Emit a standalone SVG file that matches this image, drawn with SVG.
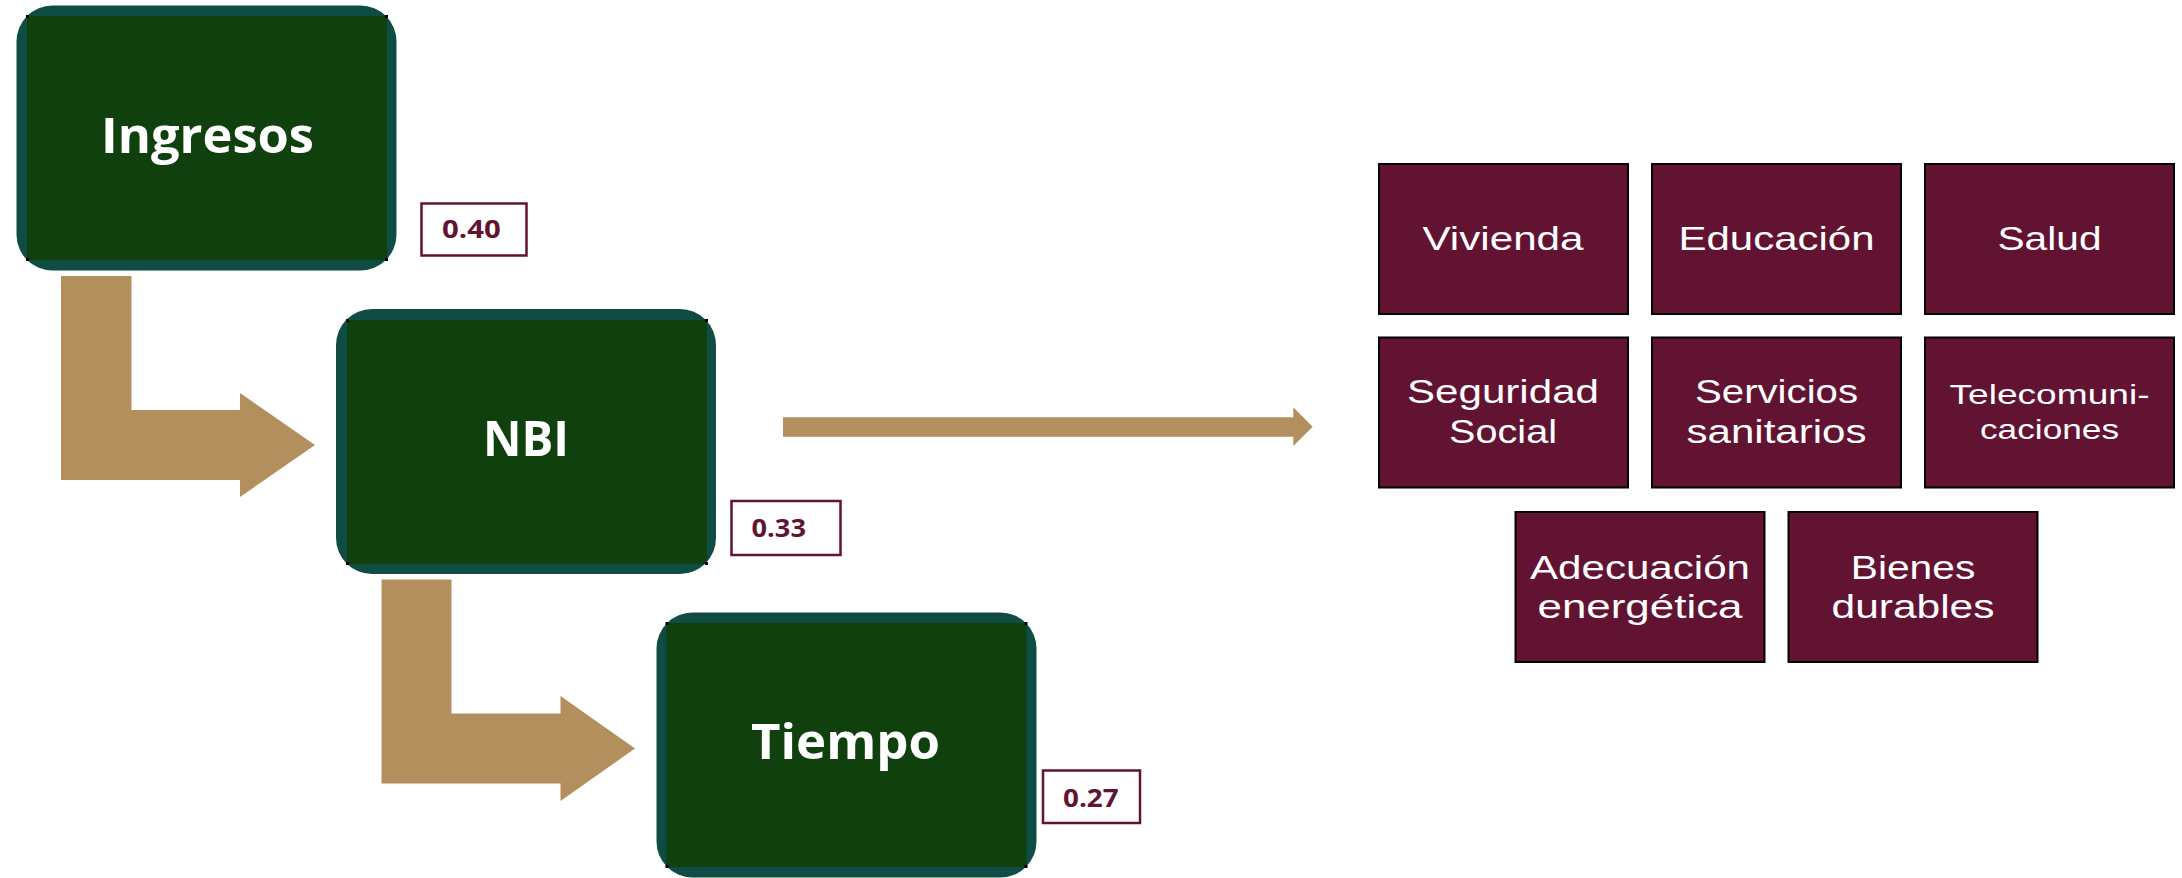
<svg xmlns="http://www.w3.org/2000/svg" width="2182" height="878" viewBox="0 0 2182 878">
<style>
.outer{fill:#0f4d44}
.inner{fill:#0f400d}
.dot{fill:#000}
.big{font-family:"Open Sans","Liberation Sans",sans-serif;font-weight:700;font-size:49px;fill:#fff;text-anchor:middle}
.lab{fill:#fff;stroke:#621332;stroke-width:2.5}
.val{font-family:"Open Sans","Liberation Sans",sans-serif;font-weight:700;font-size:25px;fill:#621332}
.cat{fill:#621332;stroke:#000;stroke-width:2}
.ct{font-family:"Liberation Sans","Open Sans",sans-serif;font-weight:400;font-size:34px;fill:#fff;text-anchor:middle}
.cs{font-family:"Liberation Sans","Open Sans",sans-serif;font-weight:400;font-size:28px;fill:#fff;text-anchor:middle}
.arr{fill:#b38f5e}
</style>
<rect width="2182" height="878" fill="#fff"/>
<g id="connectors">
<polygon class="arr" points="61,276 131.5,276 131.5,410 240,410 240,393 315,445 240,497 240,480 61,480"/>
<polygon class="arr" points="381.5,579.5 451.5,579.5 451.5,713.5 560.5,713.5 560.5,696 635,748.5 560.5,801 560.5,783.5 381.5,783.5"/>
<polygon class="arr" points="783,417.3 1293.3,417.3 1293.3,407.3 1312.7,426.7 1293.3,446 1293.3,436.7 783,436.7"/>
</g>
<g id="ingresos">
<rect class="outer" x="16.5" y="5.5" width="380" height="265" rx="36"/>
<rect class="inner" x="27" y="16" width="360" height="244"/>
<rect class="dot" x="26" y="15" width="3" height="3"/><rect class="dot" x="385" y="15" width="3" height="3"/>
<rect class="dot" x="26" y="258" width="3" height="3"/><rect class="dot" x="385" y="258" width="3" height="3"/>
<text class="big" x="207.5" y="153" textLength="213" lengthAdjust="spacingAndGlyphs">Ingresos</text>
</g>
<g id="label-040">
<rect class="lab" x="421.5" y="203.5" width="105" height="52"/>
<text class="val" x="442" y="238.3" textLength="58.7" lengthAdjust="spacingAndGlyphs">0.40</text>
</g>
<g id="nbi">
<rect class="outer" x="336" y="309" width="380" height="265" rx="36"/>
<rect class="inner" x="347" y="320" width="360" height="244"/>
<rect class="dot" x="346" y="319" width="3" height="3"/><rect class="dot" x="705" y="319" width="3" height="3"/>
<rect class="dot" x="346" y="562" width="3" height="3"/><rect class="dot" x="705" y="562" width="3" height="3"/>
<text class="big" x="526" y="456" textLength="86" lengthAdjust="spacingAndGlyphs">NBI</text>
</g>
<g id="label-033">
<rect class="lab" x="731.5" y="501" width="109" height="54"/>
<text class="val" x="751.5" y="537" textLength="54.5" lengthAdjust="spacingAndGlyphs">0.33</text>
</g>
<g id="tiempo">
<rect class="outer" x="656.5" y="612.5" width="380" height="265" rx="36"/>
<rect class="inner" x="666.5" y="623" width="360" height="244"/>
<rect class="dot" x="665.5" y="622" width="3" height="3"/><rect class="dot" x="1024.5" y="622" width="3" height="3"/>
<rect class="dot" x="665.5" y="865" width="3" height="3"/><rect class="dot" x="1024.5" y="865" width="3" height="3"/>
<text class="big" x="845.5" y="759.3" textLength="189" lengthAdjust="spacingAndGlyphs">Tiempo</text>
</g>
<g id="label-027">
<rect class="lab" x="1043" y="770.5" width="97" height="52.5"/>
<text class="val" x="1063" y="806.7" textLength="55.7" lengthAdjust="spacingAndGlyphs">0.27</text>
</g>
<g id="vivienda">
<rect class="cat" x="1379" y="164" width="249" height="150"/>
<text class="ct" x="1503" y="250" textLength="161" lengthAdjust="spacingAndGlyphs">Vivienda</text>
</g>
<g id="educacion">
<rect class="cat" x="1652" y="164" width="249" height="150"/>
<text class="ct" x="1776.5" y="250" textLength="196" lengthAdjust="spacingAndGlyphs">Educación</text>
</g>
<g id="salud">
<rect class="cat" x="1925" y="164" width="249" height="150"/>
<text class="ct" x="2049.5" y="250" textLength="104" lengthAdjust="spacingAndGlyphs">Salud</text>
</g>
<g id="seguridad-social">
<rect class="cat" x="1379" y="337.5" width="249" height="150"/>
<text class="ct" x="1503" y="403" textLength="192" lengthAdjust="spacingAndGlyphs">Seguridad</text>
<text class="ct" x="1503" y="443" textLength="108" lengthAdjust="spacingAndGlyphs">Social</text>
</g>
<g id="servicios-sanitarios">
<rect class="cat" x="1652" y="337.5" width="249" height="150"/>
<text class="ct" x="1776.5" y="402.5" textLength="163" lengthAdjust="spacingAndGlyphs">Servicios</text>
<text class="ct" x="1776.5" y="443" textLength="180" lengthAdjust="spacingAndGlyphs">sanitarios</text>
</g>
<g id="telecomunicaciones">
<rect class="cat" x="1925" y="337.5" width="249" height="150"/>
<text class="cs" x="2049.5" y="404" textLength="200" lengthAdjust="spacingAndGlyphs">Telecomuni-</text>
<text class="cs" x="2049.5" y="438.5" textLength="139" lengthAdjust="spacingAndGlyphs">caciones</text>
</g>
<g id="adecuacion-energetica">
<rect class="cat" x="1515.5" y="512" width="249" height="150"/>
<text class="ct" x="1640" y="579" textLength="220" lengthAdjust="spacingAndGlyphs">Adecuación</text>
<text class="ct" x="1640" y="618" textLength="205" lengthAdjust="spacingAndGlyphs">energética</text>
</g>
<g id="bienes-durables">
<rect class="cat" x="1788.5" y="512" width="249" height="150"/>
<text class="ct" x="1913" y="579" textLength="124.5" lengthAdjust="spacingAndGlyphs">Bienes</text>
<text class="ct" x="1913" y="618" textLength="163" lengthAdjust="spacingAndGlyphs">durables</text>
</g>
</svg>
